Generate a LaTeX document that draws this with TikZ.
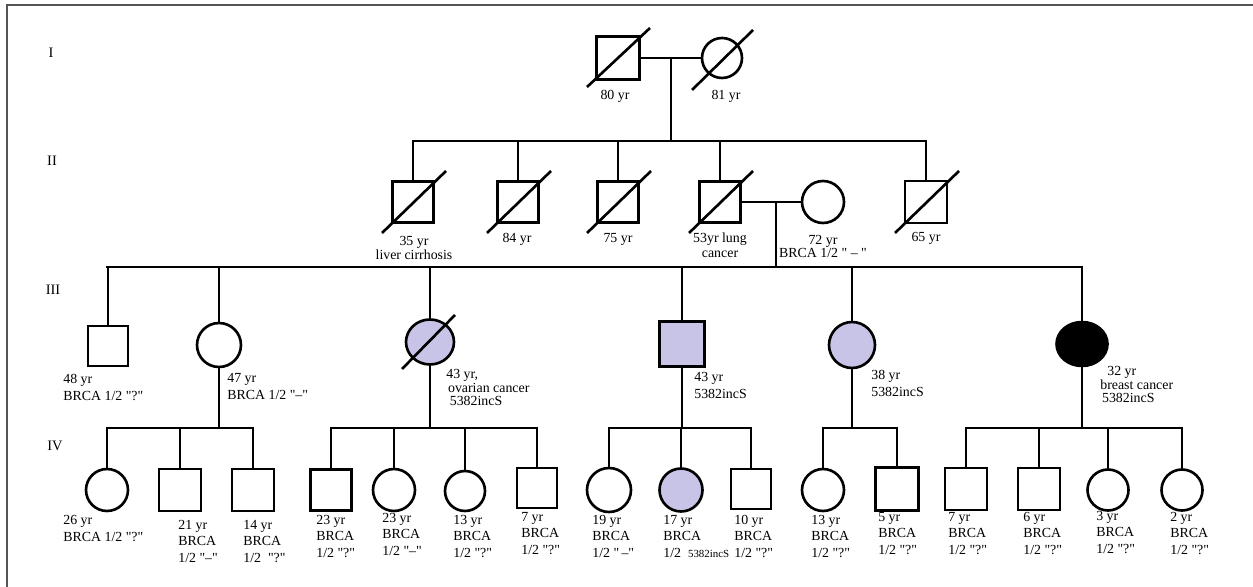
\documentclass[tikz,border=0pt]{standalone}
\usepackage{fontspec}
\setmainfont{Liberation Serif}
\newfontfamily\lib{Liberation Serif}
\usetikzlibrary{shapes.geometric}
\definecolor{lav}{RGB}{200,196,232}
\definecolor{framegray}{RGB}{85,85,85}
\begin{document}
\begin{tikzpicture}[x=0.02cm,y=-0.02cm,
  line width=1.5pt,
  sq/.style={draw,rectangle,minimum size=0.84cm,inner sep=0},
  ci/.style={draw,circle,minimum size=0.84cm,inner sep=0},
  el/.style={draw,ellipse,inner sep=0},
  conn/.style={line cap=rect},
  slashln/.style={line width=1.5pt},
  lbl/.style={font=\lib\fontsize{7.9}{9.2}\selectfont,inner sep=0,align=left,anchor=base west},
  tlbl/.style={font=\lib\fontsize{7.9}{6.9}\selectfont,inner sep=0,align=left,anchor=base west},
  clbl/.style={font=\lib\fontsize{7.9}{8.4}\selectfont,inner sep=0,align=center,anchor=base},
  gen/.style={font=\lib\fontsize{8.2}{9}\selectfont,inner sep=0,anchor=base}
]
\useasboundingbox (0,0) rectangle (1253,587);
\draw[framegray,line width=1.1pt] (1253,5) -- (7,5) -- (7,587);

% generation labels
\node[gen] (gI) at (51,58) {I};
\node[gen] (gII) at (52,166) {II};
\node[gen] (gIII) at (53,295) {III};
\node[gen] (gIV) at (55,450) {IV};

% ---------- Generation I ----------
\node[sq,minimum size=0.86cm] (p1) at (618,58) {};
\node[ci,minimum size=0.8cm] (p2) at (722,58) {};
\draw[slashln] ([shift={(-31,29)}]p1.center) -- ([shift={(32,-30)}]p1.center);
\draw[slashln] ([shift={(-30,32)}]p2.center) -- ([shift={(31,-28)}]p2.center);
\draw[conn] (p1.east) -- (p2.west);
\coordinate (m1) at (671,58);
\coordinate (s2L) at (413,141);
\coordinate (s2R) at (926,141);
\draw[conn] (m1) -- (m1 |- s2L);
\draw[conn] (s2L) -- (s2R);
\node[clbl] (t80) at (615,100) {80 yr};
\node[clbl] (t81) at (726,100) {81 yr};

% ---------- Generation II ----------
\node[sq,minimum size=0.82cm] (q1) at (413,202) {};
\node[sq,minimum size=0.82cm] (q2) at (518,202) {};
\node[sq,minimum size=0.82cm] (q3) at (618,202) {};
\node[sq,minimum size=0.82cm] (q4) at (720,202) {};
\node[ci,minimum size=0.84cm] (q5) at (823,202) {};
\node[sq,minimum size=0.84cm] (q6) at (926,202) {};
\foreach \n in {q1,q2,q3,q4,q6}{
  \draw[conn] (\n.north) -- (\n.north |- s2L);
  \draw[slashln] ([shift={(-31,31)}]\n.center) -- ([shift={(33,-31)}]\n.center);
}
\draw[conn] (q4.east) -- (q5.west);
\coordinate (m2) at (776,202);
\coordinate (s3L) at (107,267);
\coordinate (s3R) at (1082,267);
\draw[conn] (m2) -- (m2 |- s3L);
\draw[conn] (s3L) -- (s3R);
\node[clbl] (t35) at (414,260) {35 yr\\liver cirrhosis};
\node[clbl] (t84) at (517,243) {84 yr};
\node[clbl] (t75) at (618,243) {75 yr};
\node[clbl,font=\lib\fontsize{7.9}{9}\selectfont] (t53) at (720,258) {53yr lung\\cancer};
\node[clbl,font=\lib\fontsize{7.9}{7.8}\selectfont] (t72) at (823,258) {72 yr\\BRCA 1/2 " – "};
\node[clbl] (t65) at (926,242) {65 yr};

% ---------- Generation III ----------
\node[sq,minimum size=0.8cm] (h1) at (108,346) {};
\node[ci,minimum size=0.88cm] (h2) at (219,345) {};
\node[el,fill=lav,minimum width=0.96cm,minimum height=0.9cm] (h3) at (430,342) {};
\node[sq,fill=lav,minimum size=0.9cm] (h4) at (682,344) {};
\node[ci,fill=lav,minimum size=0.92cm] (h5) at (852,345) {};
\node[el,fill=black,minimum width=1.02cm,minimum height=0.88cm] (h6) at (1082,344) {};
\draw[slashln] ([shift={(-28,27)}]h3.center) -- ([shift={(25,-27)}]h3.center);
\foreach \n in {h1,h2,h3,h4,h5,h6}{
  \draw[conn] (\n.north) -- (\n.north |- s3L);
}
\node[lbl] (t48) at (62,400) {48 yr\\BRCA 1/2 "?"};
\node[lbl] (t47) at (226,399) {47 yr\\BRCA 1/2 "–"};
\node[tlbl] (t43a) at (445,405) {43 yr,\\\hspace{1pt}ovarian cancer\\\hspace{2pt}5382incS};
\node[lbl,font=\lib\fontsize{7.9}{9.6}\selectfont] (t43b) at (693,398) {43 yr\\5382incS};
\node[lbl,font=\lib\fontsize{7.9}{9.6}\selectfont] (t38) at (870,396) {38 yr\\5382incS};
\node[tlbl,font=\lib\fontsize{7.9}{7.1}\selectfont] (t32) at (1099,402) {\hspace{4pt}32 yr\\breast cancer\\\hspace{1pt}5382incS};

% ---------- Generation IV ----------
\coordinate (g1L) at (107,428);
\coordinate (g1R) at (253,428);
\coordinate (g2L) at (331,428);
\coordinate (g2R) at (537,428);
\coordinate (g3L) at (609,428);
\coordinate (g3R) at (751,428);
\coordinate (g4L) at (823,428);
\coordinate (g4R) at (897,428);
\coordinate (g5L) at (966,428);
\coordinate (g5R) at (1182,428);
\draw[conn] (g1L) -- (g1R);
\draw[conn] (g2L) -- (g2R);
\draw[conn] (g3L) -- (g3R);
\draw[conn] (g4L) -- (g4R);
\draw[conn] (g5L) -- (g5R);
\draw[conn] (h2.south) -- (h2.south |- g1L);
\draw[conn] (h3.south) -- (h3.south |- g2L);
\draw[conn] (h4.south) -- (h4.south |- g3L);
\draw[conn] (h5.south) -- (h5.south |- g4L);
\draw[conn] (h6.south) -- (h6.south |- g5L);

\node[ci] (a1) at (107,490) {};
\node[sq] (a2) at (180,490) {};
\node[sq] (a3) at (253,490) {};
\node[sq,minimum size=0.82cm] (b1) at (331,490) {};
\node[ci] (b2) at (394,490) {};
\node[ci,minimum size=0.8cm] (b3) at (465,491) {};
\node[sq,minimum size=0.8cm] (b4) at (537,488) {};
\node[ci,minimum size=0.88cm] (c1) at (609,490) {};
\node[ci,fill=lav,minimum size=0.86cm] (c2) at (681,490) {};
\node[sq,minimum size=0.8cm] (c3) at (751,489) {};
\node[ci,minimum size=0.84cm] (d1) at (823,490) {};
\node[sq,minimum size=0.86cm] (d2) at (897,489) {};
\node[sq] (e1) at (966,489) {};
\node[sq] (e2) at (1039,489) {};
\node[ci,minimum size=0.82cm] (e3) at (1108,490) {};
\node[ci,minimum size=0.82cm] (e4) at (1182,490) {};
\foreach \n/\s in {a1/g1L,a2/g1L,a3/g1L,b1/g2L,b2/g2L,b3/g2L,b4/g2L,c1/g3L,c2/g3L,c3/g3L,d1/g4L,d2/g4L,e1/g5L,e2/g5L,e3/g5L,e4/g5L}{
  \draw[conn] (\n.north) -- (\n.north |- \s);
}

\node[lbl] (u1) at (62,541) {26 yr\\BRCA 1/2 "?"};
\node[lbl] (u2) at (177,562) {21 yr\\BRCA\\1/2 "–"};
\node[lbl] (u3) at (242,562) {14 yr\\BRCA\\1/2\ \ "?"};
\node[lbl] (u4) at (315,557) {23 yr\\BRCA\\1/2 "?"};
\node[lbl] (u5) at (381,555) {23 yr\\BRCA\\1/2 "–"};
\node[lbl] (u6) at (452,557) {13 yr\\BRCA\\1/2 "?"};
\node[lbl] (u7) at (520,554) {7 yr\\BRCA\\1/2 "?"};
\node[lbl] (u8) at (591,557) {19 yr\\BRCA\\1/2 "\,–"};
\node[lbl] (u9) at (662,557) {17 yr\\BRCA\\1/2\hspace{4pt}{\fontsize{6.2}{6}\selectfont 5382incS}};
\node[lbl] (u10) at (733,557) {10 yr\\BRCA\\1/2 "?"};
\node[lbl] (u11) at (810,557) {13 yr\\BRCA\\1/2 "?"};
\node[lbl] (u12) at (877,554) {5 yr\\BRCA\\1/2 "?"};
\node[lbl] (u13) at (947,554) {7 yr\\BRCA\\1/2 "?"};
\node[lbl] (u14) at (1022,554) {6 yr\\BRCA\\1/2 "?"};
\node[lbl] (u15) at (1095,553) {3 yr\\BRCA\\1/2 "?"};
\node[lbl] (u16) at (1169,554) {2 yr\\BRCA\\1/2 "?"};
\end{tikzpicture}
\end{document}
